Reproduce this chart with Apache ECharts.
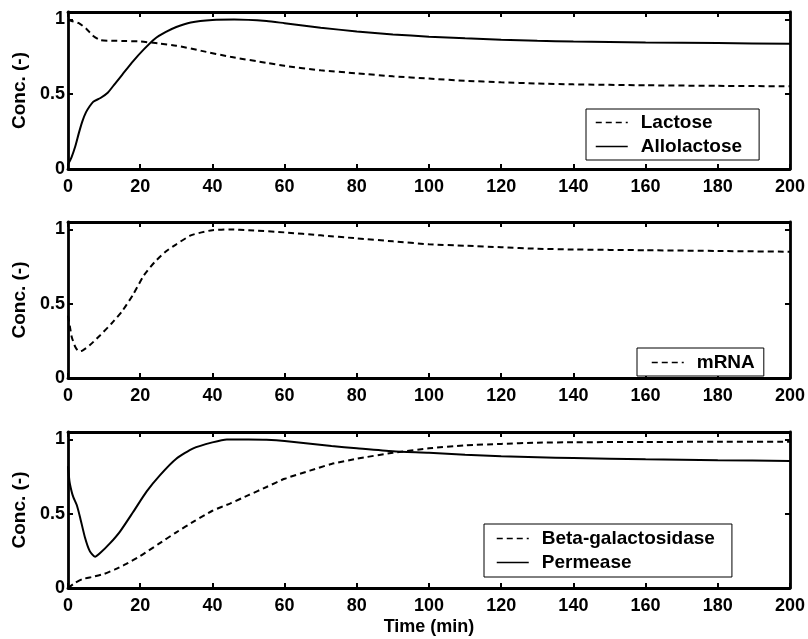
<!DOCTYPE html>
<html>
<head>
<meta charset="utf-8">
<script src="https://cdn.jsdelivr.net/npm/echarts@6/dist/echarts.min.js"></script>
<style>
html,body{margin:0;padding:0;background:#fff;}
#chart{width:808px;height:639px;}
</style>
</head>
<body>
<div id="chart"></div>
<script>
// ---- data ----
var xTicks = [0, 20, 40, 60, 80, 100, 120, 140, 160, 180, 200];
var yTicks = [0, 0.5, 1];

var lactoseT = [0, 1, 3, 5, 7, 9, 12, 16, 20, 25, 30, 37, 45, 55, 60, 70, 80, 90, 100, 110, 120, 130, 140, 160, 180, 200];
var lactoseV = [1.0, 0.99, 0.975, 0.94, 0.89, 0.862, 0.858, 0.856, 0.853, 0.84, 0.825, 0.79, 0.75, 0.71, 0.69, 0.66, 0.64, 0.62, 0.605, 0.59, 0.58, 0.572, 0.566, 0.56, 0.556, 0.553];

var alloT = [0, 1, 2, 3, 4, 5, 6, 7, 9, 11, 13, 15, 18, 21, 24, 27, 30, 34, 40, 46, 55, 60, 70, 80, 90, 100, 110, 120, 130, 140, 160, 180, 200];
var alloV = [0.03, 0.08, 0.15, 0.24, 0.32, 0.38, 0.42, 0.45, 0.475, 0.51, 0.57, 0.63, 0.72, 0.8, 0.87, 0.915, 0.95, 0.98, 0.997, 1.0, 0.99, 0.975, 0.945, 0.92, 0.9, 0.885, 0.874, 0.865, 0.858, 0.852, 0.846, 0.842, 0.838];

var mrnaT = [0, 0.5, 1, 2, 3, 4, 6, 9, 12, 15, 18, 21, 24, 27, 30, 34, 37, 40, 45, 50, 60, 70, 80, 90, 100, 110, 120, 130, 140, 160, 180, 200];
var mrnaV = [0.42, 0.35, 0.28, 0.21, 0.18, 0.185, 0.22, 0.29, 0.365, 0.45, 0.56, 0.69, 0.78, 0.85, 0.9, 0.96, 0.98, 0.995, 1.0, 0.995, 0.98, 0.96, 0.94, 0.92, 0.9, 0.89, 0.88, 0.87, 0.865, 0.86, 0.855, 0.85];

var betaT = [0, 2, 4, 7, 10, 13, 16, 20, 25, 30, 35, 40, 45, 50, 55, 60, 67, 73, 80, 90, 100, 110, 120, 130, 140, 160, 180, 200];
var betaV = [0, 0.035, 0.06, 0.076, 0.095, 0.125, 0.16, 0.215, 0.295, 0.375, 0.45, 0.52, 0.57, 0.625, 0.68, 0.735, 0.79, 0.835, 0.87, 0.91, 0.94, 0.96, 0.97, 0.978, 0.981, 0.983, 0.984, 0.985];

var permT = [0, 0.4, 1, 1.5, 2.4, 3.3, 4.7, 6, 7.5, 8.9, 11.6, 14.4, 18, 21.8, 25.5, 30, 34.7, 40, 44, 50, 55, 60, 73, 80, 90, 100, 110, 120, 130, 140, 160, 180, 200];
var permV = [0.82, 0.72, 0.65, 0.61, 0.56, 0.48, 0.34, 0.25, 0.21, 0.235, 0.30, 0.38, 0.51, 0.65, 0.76, 0.87, 0.94, 0.98, 1.0, 1.0, 0.998, 0.99, 0.955, 0.94, 0.92, 0.91, 0.897, 0.886, 0.88, 0.875, 0.866, 0.86, 0.855];

var names = ['Lactose', 'Allolactose', 'mRNA', 'Beta-galactosidase', 'Permease'];
var yTitle = 'Conc. (-)';
var xTitle = 'Time (min)';

// ---- build ----
function zip(t, v) { return t.map(function (x, i) { return [x, v[i]]; }); }

var FONT = 'Liberation Sans, Arial, Helvetica, sans-serif';
var tickTxt = { fontFamily: FONT, fontWeight: 'bold', fontSize: 18, color: '#000' };
var titleTxt = { fontFamily: FONT, fontWeight: 'bold', fontSize: 19, color: '#000' };
var grids = [
  { left: 68, right: 18, top: 12, height: 157 },
  { left: 68, right: 18, top: 222, height: 156 },
  { left: 68, right: 18, top: 432, height: 156 }
];
var frame = { show: true, onZero: false, lineStyle: { color: '#000', width: 2.8 } };
var tick = { show: true, inside: true, length: 5, lineStyle: { color: '#000', width: 2 } };

var xAxes = [], yAxes = [];
grids.forEach(function (g, i) {
  xAxes.push({
    gridIndex: i, type: 'value', position: 'bottom', min: xTicks[0], max: xTicks[xTicks.length - 1], interval: xTicks[1] - xTicks[0],
    axisLine: frame, axisTick: tick, splitLine: { show: false },
    axisLabel: Object.assign({ margin: 9 }, tickTxt),
    name: i === 2 ? xTitle : '', nameLocation: 'middle', nameGap: 30, nameTextStyle: tickTxt
  });
  xAxes.push({
    gridIndex: i, type: 'value', position: 'top', min: xTicks[0], max: xTicks[xTicks.length - 1], interval: xTicks[1] - xTicks[0],
    axisLine: frame, axisTick: tick, splitLine: { show: false }, axisLabel: { show: false }
  });
  yAxes.push({
    gridIndex: i, type: 'value', position: 'left', min: 0, max: 1.05, interval: yTicks[1] - yTicks[0],
    axisLine: frame, axisTick: tick, splitLine: { show: false },
    axisLabel: Object.assign({ margin: 3, showMaxLabel: false,
      formatter: function (v) { return yTicks.indexOf(v) >= 0 ? String(v) : ''; } }, tickTxt),
    name: yTitle, nameLocation: 'middle', nameRotate: 90, nameGap: 36, nameTextStyle: titleTxt
  });
  yAxes.push({
    gridIndex: i, type: 'value', position: 'right', min: 0, max: 1.05, interval: yTicks[1] - yTicks[0],
    axisLine: frame, axisTick: tick, splitLine: { show: false }, axisLabel: { show: false }
  });
});

function line(name, data, gi, dashed) {
  return {
    name: name, type: 'line', xAxisIndex: gi * 2, yAxisIndex: gi * 2, data: data,
    symbol: 'none', showSymbol: false, smooth: 0.2, z: 3,
    lineStyle: { color: '#000', width: 2, type: dashed ? [6, 4] : 'solid' },
    itemStyle: { color: '#000' }
  };
}

var series = [
  line(names[0], zip(lactoseT, lactoseV), 0, true),
  line(names[1], zip(alloT, alloV), 0, false),
  line(names[2], zip(mrnaT, mrnaV), 1, true),
  line(names[3], zip(betaT, betaV), 2, true),
  line(names[4], zip(permT, permV), 2, false)
];

function legend(data, left, top, pad) {
  return {
    data: data, orient: 'vertical', left: left, top: top,
    backgroundColor: '#fff', borderColor: '#000', borderWidth: 1, borderRadius: 0,
    padding: pad, itemWidth: 32, itemHeight: 14, itemGap: 5, z: 10,
    itemStyle: { opacity: 0 },
    lineStyle: { width: 1.5 },
    textStyle: Object.assign({ padding: [0, 0, 0, 8] }, titleTxt),
    selectedMode: false
  };
}

var option = {
  animation: false,
  backgroundColor: '#fff',
  grid: grids,
  xAxis: xAxes,
  yAxis: yAxes,
  legend: [
    legend([names[0], names[1]], 586, 109, [4, 17, 4, 9]),
    legend([names[2]], 637, 348, [5, 9, 4, 14]),
    legend([names[3], names[4]], 484, 524, [5, 17, 5, 12])
  ],
  series: series
};

var chart = echarts.init(document.getElementById('chart'), null, { renderer: 'canvas' });
chart.setOption(option);
</script>
</body>
</html>
